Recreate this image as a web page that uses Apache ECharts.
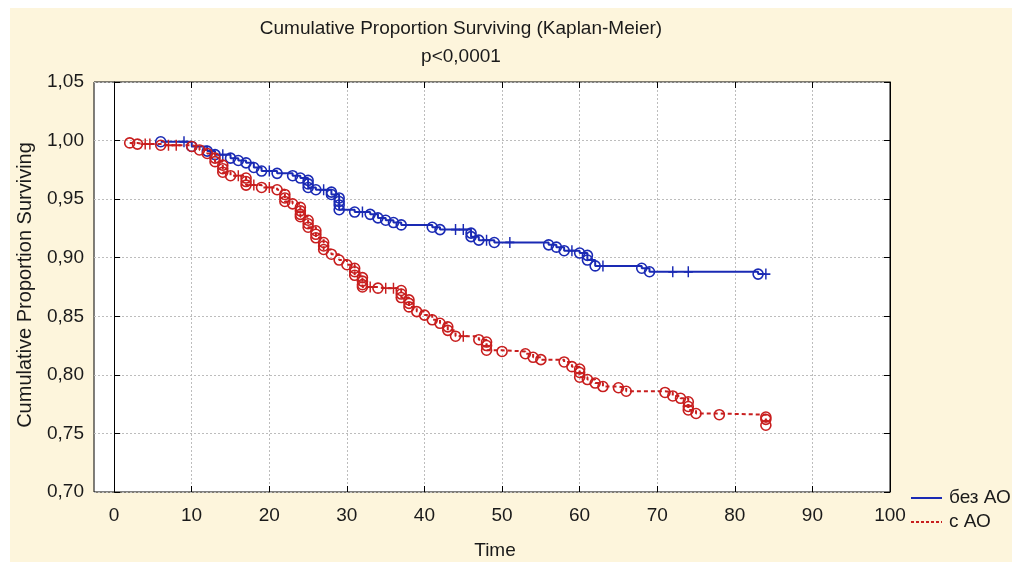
<!DOCTYPE html>
<html><head><meta charset="utf-8">
<script src="https://cdn.jsdelivr.net/npm/echarts@6/dist/echarts.min.js"></script>
<style>
html,body{margin:0;padding:0;background:#fff;}
#c{width:1012px;height:562px;background:linear-gradient(#fdf5dc,#fdf5dc) no-repeat 10px 8px / 1002px 554px, #fff;}
</style>
</head><body><div id="c"></div>
<script>
const chartTitle = 'Cumulative Proportion Surviving (Kaplan-Meier)';
const chartSubtitle = 'p<0,0001';
const xAxisTitle = 'Time';
const yAxisTitle = 'Cumulative Proportion Surviving';
const seriesNames = ['без АО', 'с АО'];
const xTickLabels = [0, 10, 20, 30, 40, 50, 60, 70, 80, 90, 100];
const yTickLabels = ['0,70', '0,75', '0,80', '0,85', '0,90', '0,95', '1,00', '1,05'];

// без АО : time, survival, censored flag (1 = censored "+", 0 = event "o")
const blueTime = [6, 9, 10, 12, 13, 14, 15, 16, 17, 18, 19, 20, 21, 23, 24, 25, 25, 25, 26, 27, 28, 28, 29, 29, 29, 29,
  31, 32, 33, 34, 35, 36, 37, 41, 42, 44, 45, 46, 46, 47, 48, 49, 51, 56, 57, 58, 59, 60, 61, 61, 62, 63, 68, 69, 72, 74, 83, 84];
const blueSurv = [0.999, 0.999, 0.995, 0.991, 0.988, 0.988, 0.985, 0.983, 0.981, 0.977, 0.974, 0.974, 0.972, 0.970, 0.968, 0.966, 0.963, 0.960, 0.958, 0.958, 0.956, 0.954, 0.951, 0.948, 0.945, 0.941,
  0.939, 0.939, 0.937, 0.934, 0.932, 0.930, 0.928, 0.926, 0.924, 0.924, 0.924, 0.921, 0.918, 0.915, 0.915, 0.913, 0.913, 0.911, 0.909, 0.906, 0.906, 0.904, 0.902, 0.898, 0.893, 0.893, 0.891, 0.888, 0.888, 0.888, 0.886, 0.886];
const blueCens = [0, 1, 0, 0, 0, 1, 0, 0, 0, 0, 0, 1, 0, 0, 0, 0, 0, 0, 0, 1, 0, 0, 0, 0, 0, 0,
  0, 1, 0, 0, 0, 0, 0, 0, 0, 1, 1, 0, 0, 0, 1, 0, 1, 0, 0, 0, 1, 0, 0, 0, 0, 1, 0, 0, 1, 1, 0, 1];

// с АО
const redTime = [2, 3, 4, 4.6, 6, 7, 8, 10, 11, 12, 13, 13, 14, 14, 14, 15, 16, 17, 17, 17, 18, 19, 20, 21, 22, 22, 22, 23,
  24, 24, 24, 24, 25, 25, 25, 26, 26, 26, 27, 27, 27, 28, 29, 30, 31, 31, 31, 32, 32, 32, 32, 33, 34, 35, 36,
  37, 37, 37, 38, 38, 38, 39, 40, 41, 42, 43, 43, 44, 45, 47, 48, 48, 48, 50, 53, 54, 55, 58, 59, 60, 60, 60, 61, 62, 63,
  65, 66, 71, 72, 73, 74, 74, 74, 75, 78, 84, 84, 84];
const redSurv = [0.998, 0.997, 0.997, 0.997, 0.996, 0.996, 0.996, 0.995, 0.992, 0.989, 0.985, 0.982, 0.979, 0.976, 0.973, 0.970, 0.970, 0.968, 0.965, 0.962, 0.962, 0.960, 0.960, 0.958, 0.954, 0.951, 0.948, 0.946,
  0.943, 0.940, 0.937, 0.935, 0.932, 0.929, 0.926, 0.923, 0.920, 0.917, 0.913, 0.910, 0.907, 0.903, 0.898, 0.894, 0.891, 0.888, 0.885, 0.883, 0.880, 0.877, 0.875, 0.875, 0.874, 0.874, 0.874,
  0.872, 0.869, 0.866, 0.864, 0.861, 0.858, 0.854, 0.851, 0.847, 0.844, 0.841, 0.838, 0.833, 0.833, 0.830, 0.828, 0.825, 0.821, 0.820, 0.818, 0.815, 0.813, 0.811, 0.807, 0.805, 0.802, 0.798, 0.796, 0.793, 0.790,
  0.789, 0.786, 0.785, 0.782, 0.780, 0.777, 0.773, 0.770, 0.767, 0.766, 0.764, 0.762, 0.757];
const redCens = [0, 0, 1, 1, 0, 1, 1, 0, 0, 0, 0, 0, 0, 0, 0, 0, 1, 0, 0, 0, 1, 0, 1, 0, 0, 0, 0, 0,
  0, 0, 0, 0, 0, 0, 0, 0, 0, 0, 0, 0, 0, 0, 0, 0, 0, 0, 0, 0, 0, 0, 0, 1, 0, 1, 1,
  0, 0, 0, 0, 0, 0, 0, 0, 0, 0, 0, 0, 0, 1, 0, 0, 0, 0, 0, 0, 0, 0, 0, 0, 0, 0, 0, 0, 0, 0,
  0, 0, 0, 0, 0, 0, 0, 0, 0, 0, 0, 0, 0];

const BLUE = '#1a2ab4';
const RED = '#c81e1e';
const FONT = 'Liberation Sans, Arial, sans-serif';
const TXT = '#1a1a1a';
const PLUS = 'path://M5 0V10M0 5H10';

function mk(times, surv) { return times.map((t, i) => [t, surv[i]]); }
function symFn(cens) { return (v, p) => cens[p.dataIndex] ? PLUS : 'circle'; }
function sizeFn(cens) { return (v, p) => cens[p.dataIndex] ? [9, 11] : 10; }

const chart = echarts.init(document.getElementById('c'), null, {renderer: 'canvas'});
const yFmt = v => v.toFixed(2).replace('.', ',');
const grid = [
  {left: 94, top: 82, width: 796, height: 410, show: true, backgroundColor: '#fff', borderColor: '#000', borderWidth: 1, containLabel: false},
  {left: 114, top: 82, width: 776, height: 410, show: false, containLabel: false}
];
const tickStyle = {show: true, inside: true, length: 6, lineStyle: {color: '#000', width: 1}};
const splitStyle = {show: true, lineStyle: {color: '#bdbdbd', width: 1, type: [2, 2]}};
chart.setOption({
  animation: false,
  backgroundColor: 'transparent',
  textStyle: {fontFamily: FONT},
  grid: grid,
  xAxis: [
    {gridIndex: 0, type: 'value', min: -2.6, max: 100, show: false},
    {gridIndex: 1, type: 'value', min: xTickLabels[0], max: xTickLabels[xTickLabels.length - 1], interval: 10, position: 'bottom',
      axisLine: {show: false}, axisTick: tickStyle, splitLine: splitStyle,
      axisLabel: {show: true, margin: 14, fontSize: 19, color: TXT, fontFamily: FONT, showMinLabel: true, showMaxLabel: true}},
    {gridIndex: 1, type: 'value', min: 0, max: 100, interval: 10, position: 'top',
      axisLine: {show: false}, axisTick: tickStyle, splitLine: {show: false}, axisLabel: {show: false}}
  ],
  yAxis: [
    {gridIndex: 0, type: 'value', min: 0.70, max: 1.05, interval: 0.05, position: 'left',
      axisLine: {show: true, lineStyle: {color: '#000'}}, axisTick: tickStyle, splitLine: splitStyle,
      axisLabel: {show: true, margin: 10, fontSize: 19, color: TXT, fontFamily: FONT,
        formatter: v => { const s = yFmt(v); return yTickLabels.includes(s) ? s : ''; }}},
    {gridIndex: 0, type: 'value', min: 0.70, max: 1.05, interval: 0.05, position: 'right',
      axisLine: {show: true, lineStyle: {color: '#000'}}, axisTick: tickStyle, splitLine: {show: false}, axisLabel: {show: false}},
    {gridIndex: 1, type: 'value', min: 0.70, max: 1.05, interval: 0.05, show: false}
  ],
  series: [
    {name: seriesNames[0], type: 'line', xAxisIndex: 0, yAxisIndex: 0, step: 'end', data: mk(blueTime, blueSurv),
      symbol: symFn(blueCens), symbolSize: sizeFn(blueCens), showAllSymbol: true, symbolKeepAspect: false,
      lineStyle: {color: BLUE, width: 2},
      itemStyle: {color: 'rgba(0,0,0,0)', borderColor: BLUE, borderWidth: 1.6},
      emphasis: {disabled: true}, z: 3},
    {name: seriesNames[1], type: 'line', xAxisIndex: 0, yAxisIndex: 0, step: 'end', data: mk(redTime, redSurv),
      symbol: symFn(redCens), symbolSize: sizeFn(redCens), showAllSymbol: true, symbolKeepAspect: false,
      lineStyle: {color: RED, width: 2, type: [4, 3]},
      itemStyle: {color: 'rgba(0,0,0,0)', borderColor: RED, borderWidth: 1.6},
      emphasis: {disabled: true}, z: 4}
  ],
  graphic: [
    {type: 'text', x: 461, y: 29, style: {text: chartTitle, fill: TXT, font: '19px ' + FONT, textAlign: 'center', textVerticalAlign: 'middle'}},
    {type: 'text', x: 461, y: 57, style: {text: chartSubtitle, fill: TXT, font: '19px ' + FONT, textAlign: 'center', textVerticalAlign: 'middle'}},
    {type: 'text', x: 495, y: 551, style: {text: xAxisTitle, fill: TXT, font: '19px ' + FONT, textAlign: 'center', textVerticalAlign: 'middle'}},
    {type: 'text', x: 25, y: 285, rotation: Math.PI / 2, style: {text: yAxisTitle, fill: TXT, font: '20px ' + FONT, textAlign: 'center', textVerticalAlign: 'middle'}},
    {type: 'line', shape: {x1: 911, y1: 498, x2: 942, y2: 498}, style: {stroke: BLUE, lineWidth: 2}},
    {type: 'line', shape: {x1: 911, y1: 522, x2: 942, y2: 522}, style: {stroke: RED, lineWidth: 2, lineDash: [3, 2]}},
    {type: 'text', x: 949, y: 498, style: {text: seriesNames[0], fill: TXT, font: '19px ' + FONT, textAlign: 'left', textVerticalAlign: 'middle'}},
    {type: 'text', x: 949, y: 522, style: {text: seriesNames[1], fill: TXT, font: '19px ' + FONT, textAlign: 'left', textVerticalAlign: 'middle'}}
  ]
});
</script>
</body></html>
